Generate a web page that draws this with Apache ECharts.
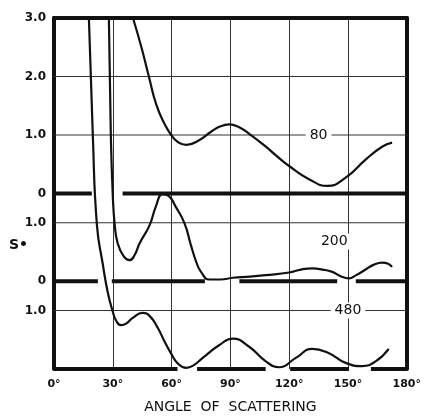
<!DOCTYPE html>
<html>
<head>
<meta charset="utf-8">
<script src="https://cdn.jsdelivr.net/npm/echarts@6/dist/echarts.min.js"></script>
<style>
html, body { margin: 0; padding: 0; background: #fff; }
#chart { width: 424px; height: 419px; }
</style>
</head>
<body>
<div id="chart"></div>
<script>
// angle of scattering, degrees
var angleTicks = [0, 30, 60, 90, 120, 150, 180];

// three curves stacked on one axis, each on its own zero line
var curveNames = ['80', '200', '480'];
var curveOffsets = [3, 1.5, 0];

// [angle, S], S on each curve's own scale
var s80 = [[40.3, 3.0], [44.6, 2.5], [48.4, 2.0], [52.2, 1.52], [56.4, 1.19], [59.8, 1.0],
  [63.2, 0.88], [67.5, 0.83], [74, 0.91], [80.3, 1.06], [85, 1.15], [89.5, 1.18], [94, 1.14],
  [99.6, 1.02], [108.1, 0.8], [114, 0.63], [120, 0.47], [130.1, 0.245], [139.5, 0.13],
  [148.8, 0.27], [159, 0.58], [167.4, 0.8], [172.5, 0.87]];
var s200 = [[28, 4.5], [29, 2.49], [30, 1.46], [31, 0.96], [32.5, 0.65], [35.5, 0.43], [38.6, 0.36],
  [41, 0.44], [43.7, 0.65], [48.8, 0.96], [52, 1.28], [55.4, 1.49], [58.5, 1.46], [62, 1.28],
  [66.6, 0.99], [70, 0.6], [72.7, 0.32], [75, 0.16], [79.3, 0.03], [85, 0.03], [91.2, 0.06],
  [100, 0.08], [108.1, 0.105], [120, 0.15], [126, 0.2], [131.8, 0.22], [137, 0.2], [142, 0.16],
  [146, 0.09], [150.5, 0.05], [154, 0.1], [159, 0.2], [163, 0.28], [167.4, 0.32], [170.5, 0.3],
  [172.5, 0.245]];
var s480 = [[17.8, 6.0], [19.8, 4.0], [21.9, 2.46], [24.9, 1.79], [27.5, 1.3], [30, 0.98],
  [31.8, 0.82], [34.1, 0.75], [37, 0.78], [40, 0.87], [45.2, 0.96], [49, 0.9], [53, 0.7],
  [56.4, 0.47], [60, 0.25], [63, 0.1], [67.5, 0.02], [71.5, 0.07], [75.9, 0.19], [84.4, 0.41],
  [91.2, 0.52], [99.6, 0.38], [108.1, 0.13], [114.9, 0.03], [123.4, 0.19], [131.8, 0.345],
  [140.3, 0.27], [148.8, 0.105], [157.2, 0.05], [164.1, 0.13], [170.8, 0.345]];
var curves = [s80, s200, s480];

// y tick labels on the shared axis
var yTickValues = [6, 5, 4, 3, 2.5, 1.5, 1];
var yTickLabels = ['3.0', '2.0', '1.0', '0', '1.0', '0', '1.0'];

// thin horizontal rules (shared axis)
var gridLevels = [1, 2.5, 4, 5];

// heavy zero lines, broken where curves touch them: [from, to] deg
var baseSegs = [
  [[0, 19.3], [35, 180]],
  [[0, 22.4], [29.5, 77], [94.6, 144.5], [154, 180]],
  [[0, 63], [73, 108], [120.5, 150.5], [161.7, 180]]
];

// curve labels: angle and level on the curve's own scale
var labelAngles = [135, 143, 150];
var labelLevels = [1.0, 0.68, 1.0];

var ink = '#111';

function shift(pts, off) {
  return pts.map(function (p) { return [p[0], p[1] + off]; });
}

var gridData = [];
gridLevels.forEach(function (v) {
  gridData.push([0, v], [180, v], [180, '-']);
});

var series = [{
  type: 'line', xAxisIndex: 0, yAxisIndex: 0, z: 1, silent: true,
  symbol: 'none', data: gridData,
  lineStyle: { color: '#333', width: 1 }
}];

curveNames.forEach(function (name, i) {
  var off = curveOffsets[i];
  var bd = [];
  baseSegs[i].forEach(function (s) {
    bd.push([s[0], off], [s[1], off], [s[1], '-']);
  });
  series.push({
    type: 'line', z: 2, silent: true, symbol: 'none', data: bd,
    lineStyle: { color: ink, width: 4, cap: 'butt' }
  });
});

curveNames.forEach(function (name, i) {
  series.push({
    name: name, type: 'line', z: 3, symbol: 'none',
    smooth: 0.5,
    data: shift(curves[i], curveOffsets[i]),
    lineStyle: { color: ink, width: 2.2 },
    markPoint: {
      symbol: 'circle', symbolSize: 1,
      itemStyle: { color: '#fff' },
      label: {
        show: true, position: 'inside', color: ink,
        fontFamily: 'DejaVu Sans', fontSize: 14,
        backgroundColor: '#fff', padding: [1, 4],
        formatter: function () { return name; }
      },
      data: [{ coord: [labelAngles[i], labelLevels[i] + curveOffsets[i]] }]
    }
  });
});

var chart = echarts.init(document.getElementById('chart'));
chart.setOption({
  backgroundColor: '#fff',
  animation: false,
  grid: { left: 54, right: 16, top: 18, bottom: 41 },
  xAxis: [{
    type: 'value', min: 0, max: 180, interval: 30,
    axisLine: { show: false }, axisTick: { show: false },
    axisLabel: {
      margin: 10, color: ink, fontFamily: 'DejaVu Sans', fontWeight: 'bold', fontSize: 11,
      formatter: function (v) { return angleTicks.indexOf(v) >= 0 ? v + '°' : ''; }
    },
    splitLine: { show: true, lineStyle: { color: '#333', width: 1 } },
    name: 'ANGLE  OF  SCATTERING', nameLocation: 'middle', nameGap: 31,
    nameTextStyle: { color: ink, fontFamily: 'DejaVu Sans', fontSize: 14 }
  }, {
    type: 'value', min: 0, max: 180, position: 'top',
    axisLine: { show: true, onZero: false, lineStyle: { color: ink, width: 4 } },
    axisTick: { show: false }, axisLabel: { show: false }, splitLine: { show: false }
  }],
  yAxis: [{
    type: 'value', min: 0, max: 6, interval: 0.5,
    axisLine: { show: true, onZero: false, lineStyle: { color: ink, width: 4 } },
    axisTick: { show: false },
    axisLabel: {
      margin: 8, color: ink, fontFamily: 'DejaVu Sans', fontWeight: 'bold', fontSize: 12,
      formatter: function (v) {
        var k = yTickValues.indexOf(v);
        return k >= 0 ? yTickLabels[k] : '';
      }
    },
    splitLine: { show: false }
  }, {
    type: 'value', min: 0, max: 6, position: 'right',
    axisLine: { show: true, onZero: false, lineStyle: { color: ink, width: 4 } },
    axisTick: { show: false }, axisLabel: { show: false }, splitLine: { show: false }
  }],
  graphic: [{
    type: 'text', left: 9, top: 238,
    style: { text: 'S•', fill: ink, font: 'bold 14px "DejaVu Sans"' }
  }],
  series: series
});
</script>
</body>
</html>
